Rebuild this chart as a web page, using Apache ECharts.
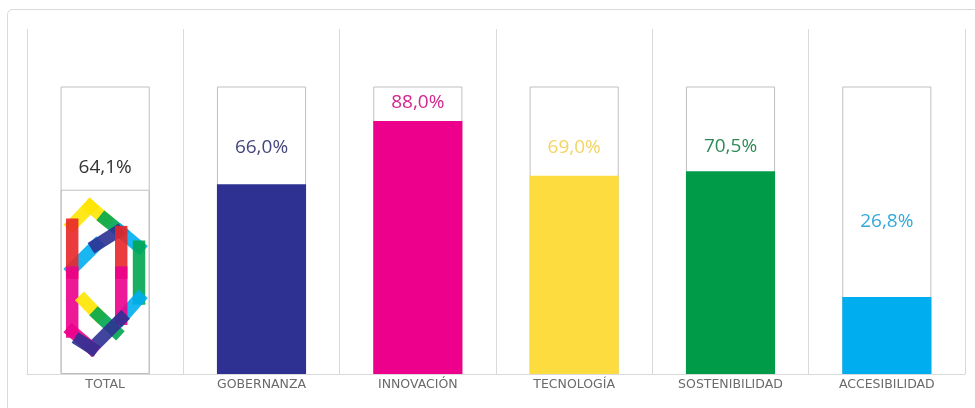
<!DOCTYPE html>
<html><head><meta charset="utf-8">
<script src="https://cdn.jsdelivr.net/npm/echarts@6/dist/echarts.min.js"></script>
<style>html,body{margin:0;padding:0;background:#fff}#c{width:975px;height:408px}</style>
</head><body><div id="c"></div>
<script>
// ---- data ----
const categories = ['TOTAL', 'GOBERNANZA', 'INNOVACIÓN', 'TECNOLOGÍA', 'SOSTENIBILIDAD', 'ACCESIBILIDAD'];
const values = [64.1, 66.0, 88.0, 69.0, 70.5, 26.8];
const fullScale = [100, 100, 100, 100, 100, 100];

// ---- styling ----
const barColors = ['rgba(0,0,0,0)', '#2e3192', '#ec008c', '#fddc3f', '#009b48', '#00aeef'];
const labelColors = ['#333333', '#45467e', '#d4268c', '#f3d465', '#2f8a58', '#33a9d9'];
const labelGaps = [22, 37, 18, 28, 25, 75];
const gridColor = '#d9d9d9';
const boxBorder = '#bfbfbf';

// logo decoration (fractions of the TOTAL box: x across width, y from value line to baseline)
const logoStrokes = [
  {c: '#ffe600', p: [[0.13, 0.19], [0.33, 0.09]]},
  {c: '#ffe600', p: [[0.33, 0.09], [0.50, 0.16]]},
  {c: '#00a651', p: [[0.50, 0.16], [0.68, 0.23]]},
  {c: '#00aeef', p: [[0.68, 0.23], [0.88, 0.31]]},
  {c: '#00a651', p: [[0.88, 0.31], [0.88, 0.59]]},
  {c: '#00aeef', p: [[0.88, 0.59], [0.68, 0.70]]},
  {c: '#00aeef', p: [[0.13, 0.43], [0.40, 0.30]]},
  {c: '#2e3192', p: [[0.40, 0.30], [0.63, 0.23]]},
  {c: '#e8262a', p: [[0.13, 0.19], [0.13, 0.45]]},
  {c: '#ec008c', p: [[0.13, 0.45], [0.13, 0.77]]},
  {c: '#e8262a', p: [[0.68, 0.23], [0.68, 0.45]]},
  {c: '#ec008c', p: [[0.68, 0.45], [0.68, 0.70]]},
  {c: '#ffe600', p: [[0.26, 0.60], [0.42, 0.68]]},
  {c: '#00a651', p: [[0.42, 0.68], [0.62, 0.77]]},
  {c: '#2e3192', p: [[0.68, 0.70], [0.35, 0.86]]},
  {c: '#ec008c', p: [[0.35, 0.86], [0.13, 0.77]]},
  {c: '#2e3192', p: [[0.22, 0.82], [0.35, 0.86]]}
];

const fmt = v => v.toFixed(1).replace('.', ',') + '%';
const BAR_W = 0.57;

const chart = echarts.init(document.getElementById('c'), null, {renderer: 'canvas'});
chart.setOption({
  animation: false,
  backgroundColor: '#ffffff',
  graphic: [{
    type: 'rect', z: -10, silent: true,
    shape: {x: 7.5, y: 9.5, width: 1000, height: 450, r: 5},
    style: {fill: 'none', stroke: gridColor, lineWidth: 1}
  }],
  grid: {left: 27, right: 10, top: 29, bottom: 34},
  xAxis: {
    type: 'category',
    data: categories,
    boundaryGap: true,
    axisLine: {lineStyle: {color: gridColor, width: 1}},
    axisTick: {show: false},
    splitLine: {show: true, lineStyle: {color: gridColor, width: 1}},
    axisLabel: {
      interval: 0, margin: 4,
      color: '#6a6a6a', fontFamily: 'DejaVu Sans', fontWeight: 'normal', fontSize: 12.5
    }
  },
  yAxis: {
    type: 'value', min: 0, max: 120,
    show: false, splitLine: {show: false}
  },
  series: [
    {
      type: 'bar', barWidth: (BAR_W * 100) + '%', barGap: '-100%', z: 2,
      data: fullScale,
      itemStyle: {color: '#ffffff', borderColor: boxBorder, borderWidth: 1},
      silent: true
    },
    {
      type: 'bar', barWidth: (BAR_W * 100) + '%', barGap: '-100%', z: 3,
      data: values.map((v, i) => ({
        value: v,
        itemStyle: i === 0
          ? {color: barColors[i], borderColor: boxBorder, borderWidth: 1}
          : {color: barColors[i]},
        label: {
          show: true, position: 'top', distance: labelGaps[i],
          verticalAlign: 'middle', align: 'center',
          color: labelColors[i], fontFamily: 'Open Sans', fontSize: 19,
          formatter: p => fmt(p.value)
        }
      }))
    },
    {
      type: 'custom', z: 4, silent: true,
      data: [[categories[0], values[0]]],
      renderItem: function (params, api) {
        const base = api.coord([api.value(0), 0]);
        const top = api.coord([api.value(0), api.value(1)]);
        const bw = api.size([1, 0])[0] * BAR_W;
        const left = base[0] - bw / 2;
        const h = base[1] - top[1];
        const m = q => [left + q[0] * bw, top[1] + q[1] * h];
        return {
          type: 'group',
          children: logoStrokes.map(s => ({
            type: 'polyline',
            shape: {points: s.p.map(m)},
            style: {stroke: s.c, lineWidth: bw * 0.14, fill: null, lineCap: 'square', opacity: 0.9}
          }))
        };
      }
    }
  ]
});
</script></body></html>
